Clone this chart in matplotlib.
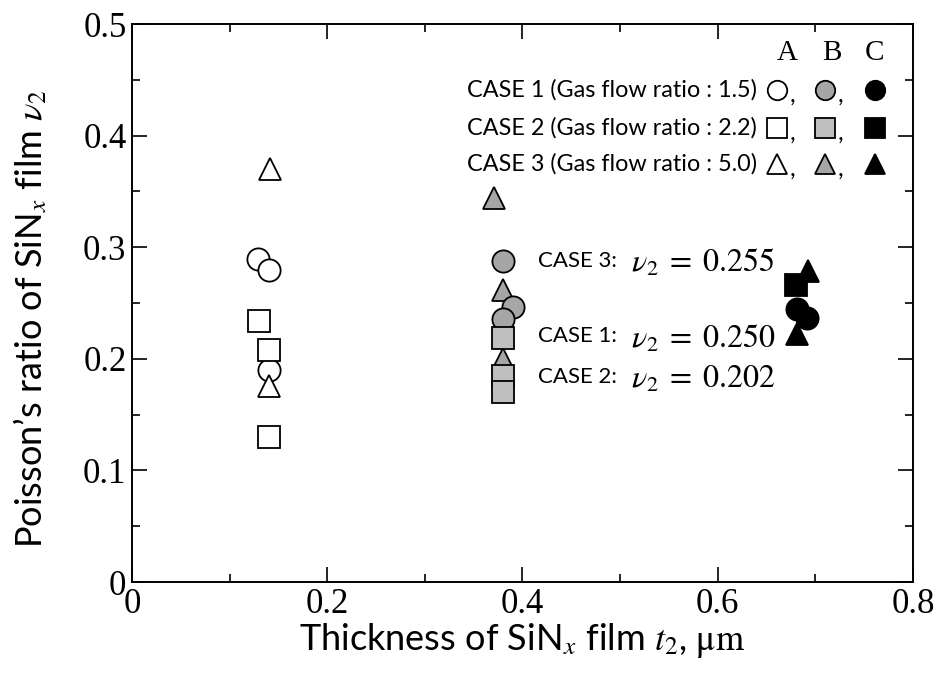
import matplotlib
matplotlib.use("Agg")
import matplotlib.pyplot as plt
from matplotlib.ticker import MultipleLocator

plt.rcParams['mathtext.fontset'] = 'stix'
plt.rcParams['font.family'] = ['Lato', 'DejaVu Sans']

# data: (thickness um, poisson ratio)
case1_A_x = [0.129, 0.140, 0.140]
case1_A_y = [0.289, 0.280, 0.190]
case2_A_x = [0.130, 0.140, 0.140]
case2_A_y = [0.234, 0.208, 0.130]
case3_A_x = [0.141, 0.140]
case3_A_y = [0.370, 0.176]

case1_B_x = [0.380, 0.390, 0.380]
case1_B_y = [0.288, 0.246, 0.236]
case2_B_x = [0.380, 0.380, 0.380]
case2_B_y = [0.219, 0.185, 0.170]
case3_B_x = [0.371, 0.380, 0.380]
case3_B_y = [0.344, 0.262, 0.200]

case1_C_x = [0.681, 0.691]
case1_C_y = [0.245, 0.237]
case2_C_x = [0.680]
case2_C_y = [0.266]
case3_C_x = [0.692, 0.681]
case3_C_y = [0.279, 0.222]

case_names = ["CASE 1 (Gas flow ratio : 1.5)",
              "CASE 2 (Gas flow ratio : 2.2)",
              "CASE 3 (Gas flow ratio : 5.0)"]
mean_labels = ["CASE 3:", "CASE 1:", "CASE 2:"]
mean_values = ["0.255", "0.250", "0.202"]

serif = 'Liberation Serif'
gray_round = '#a6a6a6'
gray_sq = '#bfbfbf'
ms = 16
mew = 1.3

fig = plt.figure(figsize=(9.4, 6.84), dpi=100)
ax = fig.add_axes([0.1404, 0.1491, 0.8309, 0.8158])


def pts(x, y, marker, face, z, size=ms):
    ax.plot(x, y, linestyle='none', marker=marker, markersize=size,
            markerfacecolor=face, markeredgecolor='black',
            markeredgewidth=mew, zorder=z, clip_on=False)


# group A (open)
pts(case1_A_x, case1_A_y, 'o', 'white', 3)
pts(case2_A_x, case2_A_y, 's', 'white', 4)
pts(case3_A_x, case3_A_y, '^', 'white', 5)
# group B (gray)
pts(case3_B_x, case3_B_y, '^', gray_round, 3)
pts(case1_B_x, case1_B_y, 'o', gray_round, 4)
pts(case2_B_x, case2_B_y, 's', gray_sq, 5)
# group C (black)
pts(case1_C_x, case1_C_y, 'o', 'black', 3)
pts(case2_C_x, case2_C_y, 's', 'black', 4)
pts(case3_C_x, case3_C_y, '^', 'black', 5)

# mean value notes
note_y = [0.288, 0.220, 0.184]
for lab, val, yy in zip(mean_labels, mean_values, note_y):
    ax.text(0.416, yy, lab, fontsize=16, va='center', ha='left')
    ax.text(0.511, yy - 0.002, r"$\nu_2\;=\;" + val + "$", fontsize=23,
            va='center', ha='left')

# legend block
leg_y = [0.441, 0.407, 0.375]
col_x = [0.661, 0.710, 0.761]
markers = ['o', 's', '^']
for name, yy, mk in zip(case_names, leg_y, markers):
    ax.text(0.640, yy, name, fontsize=16.8, ha='right', va='center')
    faces = ['white', gray_sq if mk == 's' else gray_round, 'black']
    for cx, fc in zip(col_x, faces):
        pts([cx], [yy], mk, fc, 6, size=14)
    for cx in col_x[:2]:
        ax.text(cx + 0.013, yy - 0.005, ",", fontsize=18, ha='left', va='center')
for cx, lab in zip([0.671, 0.717, 0.761], ["A", "B", "C"]):
    ax.text(cx, 0.474, lab, fontsize=21, family=serif, ha='center', va='center')

ax.set_xlim(0, 0.8)
ax.set_ylim(0, 0.5)
ax.set_xticks([0, 0.2, 0.4, 0.6, 0.8])
ax.set_xticklabels(["0", "0.2", "0.4", "0.6", "0.8"])
ax.set_yticks([0, 0.1, 0.2, 0.3, 0.4, 0.5])
ax.set_yticklabels(["0", "0.1", "0.2", "0.3", "0.4", "0.5"])
ax.xaxis.set_minor_locator(MultipleLocator(0.1))
ax.yaxis.set_minor_locator(MultipleLocator(0.05))
ax.tick_params(which='both', direction='in', top=True, right=True, width=1.2)
ax.tick_params(which='major', length=11, labelsize=25)
ax.tick_params(axis='x', which='major', pad=4)
ax.tick_params(axis='y', which='major', pad=4)
ax.tick_params(which='minor', length=6)
for lab in ax.get_xticklabels() + ax.get_yticklabels():
    lab.set_family(serif)
for sp in ax.spines.values():
    sp.set_linewidth(1.4)

ax.set_xlabel(r"Thickness of SiN$_{x}$ film $t_2$, $\mathrm{\mu m}$", fontsize=26, va='center')
ax.xaxis.set_label_coords(0.5, -0.104)
ax.set_ylabel(r"Poisson’s ratio of SiN$_{x}$ film $\nu_2$", fontsize=26, va='center')
ax.yaxis.set_label_coords(-0.131, 0.472)

fig.savefig("out.png", dpi=100)
